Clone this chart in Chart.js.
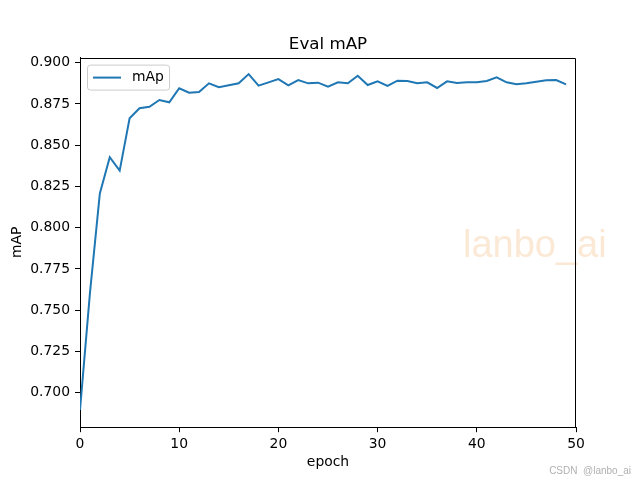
<!DOCTYPE html>
<html>
<head>
<meta charset="utf-8">
<script src="https://cdn.jsdelivr.net/npm/chart.js@4/dist/chart.umd.min.js"></script>
<style>
  html, body { margin: 0; padding: 0; background: #fff; }
  #wrap { width: 640px; height: 480px; }
</style>
</head>
<body>
<div id="wrap"><canvas id="mapChart" width="640" height="480"></canvas></div>
<script>
// mAP por epoch
const mapValues = [
    0.6895, 0.7602, 0.8208, 0.8427, 0.8346, 0.8663, 0.8724, 0.8733, 0.8774, 0.8760,
    0.8845, 0.8818, 0.8822, 0.8875, 0.8851, 0.8863, 0.8875, 0.8931, 0.8861, 0.8881,
    0.8901, 0.8863, 0.8895, 0.8875, 0.8879, 0.8855, 0.8881, 0.8875, 0.8921, 0.8865,
    0.8887, 0.8859, 0.8891, 0.8889, 0.8875, 0.8881, 0.8847, 0.8887, 0.8877, 0.8881,
    0.8881, 0.8889, 0.8911, 0.8881, 0.8869, 0.8875, 0.8885, 0.8893, 0.8895, 0.8869
];
const epochs = mapValues.map((v, i) => i);
const xTicks = [0, 10, 20, 30, 40, 50];
const yTicks = [0.700, 0.725, 0.750, 0.775, 0.800, 0.825, 0.850, 0.875, 0.900];

const chartTitle = 'Eval mAP';
const seriesLabel = 'mAp';
const xLabel = 'epoch';
const yLabel = 'mAP';
const watermark = 'lanbo_ai';
const footerText = 'CSDN  @lanbo_ai';

const FONT = "'DejaVu Sans', sans-serif";
const lineColor = '#1f77b4';

// Título, leyenda, marco y marcas de agua
const decorPlugin = {
    id: 'decor',
    afterDraw(chart) {
        const { ctx, chartArea: a } = chart;
        ctx.save();

        // marca de agua (debajo del marco)
        ctx.font = "38px 'Liberation Sans', Arial, sans-serif";
        ctx.fillStyle = '#fbe9d6';
        ctx.textAlign = 'left';
        ctx.textBaseline = 'alphabetic';
        ctx.fillText(watermark, 463, 257);

        // lados superior y derecho del marco
        const top = Math.round(a.top) + 0.5;
        const right = Math.round(a.right) - 0.5;
        ctx.strokeStyle = '#000';
        ctx.lineWidth = 1;
        ctx.beginPath();
        ctx.moveTo(a.left, top);
        ctx.lineTo(right, top);
        ctx.lineTo(right, a.bottom);
        ctx.stroke();

        // título
        ctx.fillStyle = '#000';
        ctx.font = '16.7px ' + FONT;
        ctx.textAlign = 'center';
        ctx.fillText(chartTitle, (a.left + a.right) / 2, 49);

        // leyenda
        const lx = a.left + 7.5, ly = a.top + 7.5, lw = 82, lh = 25;
        ctx.fillStyle = 'rgba(255,255,255,0.8)';
        ctx.strokeStyle = '#cccccc';
        ctx.beginPath();
        ctx.roundRect(lx, ly, lw, lh, 3);
        ctx.fill();
        ctx.stroke();
        ctx.strokeStyle = lineColor;
        ctx.lineWidth = 2;
        ctx.beginPath();
        ctx.moveTo(lx + 5.5, ly + 12.5);
        ctx.lineTo(lx + 33.5, ly + 12.5);
        ctx.stroke();
        ctx.fillStyle = '#000';
        ctx.font = '13.9px ' + FONT;
        ctx.textAlign = 'left';
        ctx.textBaseline = 'middle';
        ctx.fillText(seriesLabel, lx + 44.5, ly + 12.5);

        // pie
        ctx.font = "10px 'Liberation Sans', Arial, sans-serif";
        ctx.fillStyle = '#b0b0b0';
        ctx.textAlign = 'right';
        ctx.textBaseline = 'alphabetic';
        ctx.fillText(footerText, 631, 474);

        ctx.restore();
    }
};

const ctx = document.getElementById('mapChart');
new Chart(ctx, {
    type: 'line',
    data: {
        datasets: [{
            label: seriesLabel,
            data: epochs.map((e, i) => ({ x: e, y: mapValues[i] })),
            borderColor: lineColor,
            borderWidth: 2,
            pointRadius: 0,
            tension: 0,
            fill: false
        }]
    },
    options: {
        responsive: false,
        animation: false,
        devicePixelRatio: 1,
        layout: { padding: { left: 0, top: 57.6, right: 64, bottom: 0 } },
        plugins: {
            legend: { display: false },
            title: { display: false },
            tooltip: { enabled: false }
        },
        scales: {
            x: {
                type: 'linear',
                min: 0,
                max: 50,
                bounds: 'data',
                afterFit: (s) => { s.height = 52.8; },
                afterBuildTicks: (s) => { s.ticks = xTicks.map(v => ({ value: v })); },
                ticks: {
                    color: '#000',
                    font: { family: FONT, size: 13.9 },
                    padding: 4,
                    maxRotation: 0,
                    callback: (v) => String(v)
                },
                grid: { drawOnChartArea: false, drawTicks: true, tickLength: 5, color: '#000', lineWidth: 1 },
                border: { display: true, color: '#000', width: 1 },
                title: {
                    display: true,
                    text: xLabel,
                    color: '#000',
                    font: { family: FONT, size: 13.9 },
                    padding: { top: 0, bottom: 9 }
                }
            },
            y: {
                type: 'linear',
                min: 0.6791,
                max: 0.9031,
                bounds: 'data',
                afterFit: (s) => { s.width = 80; },
                afterBuildTicks: (s) => { s.ticks = yTicks.map(v => ({ value: v })); },
                ticks: {
                    color: '#000',
                    font: { family: FONT, size: 13.9 },
                    padding: 5,
                    callback: (v) => Number(v).toFixed(3)
                },
                grid: { drawOnChartArea: false, drawTicks: true, tickLength: 5, color: '#000', lineWidth: 1 },
                border: { display: true, color: '#000', width: 1 },
                title: {
                    display: true,
                    text: yLabel,
                    color: '#000',
                    font: { family: FONT, size: 13.9 },
                    padding: { top: 9, bottom: 0 }
                }
            }
        }
    },
    plugins: [decorPlugin]
});
</script>
</body>
</html>
